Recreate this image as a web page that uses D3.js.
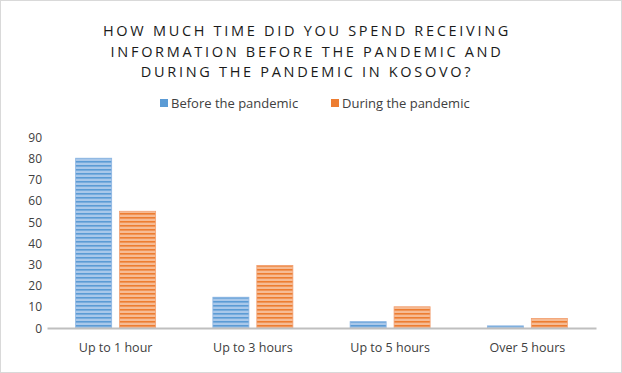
<!DOCTYPE html>
<html><head><meta charset="utf-8">
<script src="https://cdn.jsdelivr.net/npm/d3@7"></script>
<style>body{margin:0;background:#fff}svg{display:block}</style>
</head><body><svg id="c" width="622" height="373"></svg>
<script>
const categories = ["Up to 1 hour", "Up to 3 hours", "Up to 5 hours", "Over 5 hours"];
const seriesNames = ["Before the pandemic", "During the pandemic"];
const beforeValues = [80, 14.5, 3, 1];
const duringValues = [55, 29.5, 10, 4.5];
const yTicks = [0, 10, 20, 30, 40, 50, 60, 70, 80, 90];
const titleLines = ["HOW MUCH TIME DID YOU SPEND RECEIVING", "INFORMATION BEFORE THE PANDEMIC AND", "DURING THE PANDEMIC IN KOSOVO?"];

const svg = d3.select("#c");
const font = "'Open Sans', 'Liberation Sans', sans-serif";
svg.append("rect").attr("x",0.5).attr("y",0.5).attr("width",621).attr("height",372)
  .attr("fill","#fff").attr("stroke","#d9d9d9");

const defs = svg.append("defs");
function stripe(id, light, dark){
  const p = defs.append("pattern").attr("id",id).attr("patternUnits","userSpaceOnUse")
    .attr("width",8).attr("height",4);
  p.append("rect").attr("width",8).attr("height",4).attr("fill",light);
  p.append("rect").attr("y",1).attr("width",8).attr("height",1.6).attr("fill",dark);
}
stripe("pb","#a9c8ea","#5b9bd5");
stripe("po","#f6bb94","#ed7d31");
const colors = ["url(#pb)","url(#po)"];
const strokes = ["#8db6e3","#f2a173"];
const swatch = ["#5b9bd5","#ed7d31"];

const x0 = d3.scaleBand().domain(categories).range([47,596]).paddingInner(0).paddingOuter(0);
const x1 = d3.scaleBand().domain([0,1]).range([x0.bandwidth()/2-40, x0.bandwidth()/2+40]).paddingInner(0.18).paddingOuter(0);
const y = d3.scaleLinear().domain([0,90]).range([328,137]);

// title
const t = svg.append("text").attr("text-anchor","middle").attr("font-family",font)
  .attr("font-size",14.5).attr("fill","#1a1a1a").attr("letter-spacing","2.7px");
titleLines.forEach((l,i)=>t.append("tspan").attr("x",307).attr("y",36+i*20.5).text(l));

// legend
const lg = svg.append("g").attr("font-family",font).attr("font-size",13).attr("fill","#404040");
const legX = [160, 331];
seriesNames.forEach((n,i)=>{
  lg.append("rect").attr("x",legX[i]).attr("y",99).attr("width",8).attr("height",8).attr("fill",swatch[i]);
  lg.append("text").attr("x",legX[i]+11).attr("y",108).attr("fill","#404040").text(n);
});

// y axis
const ya = svg.append("g").attr("transform","translate(42,0)")
  .call(d3.axisLeft(y).tickValues(yTicks).tickSize(0).tickPadding(0));
ya.select(".domain").remove();
ya.selectAll("text").attr("font-family",font).attr("font-size",12).attr("fill","#404040").attr("dy","0.35em");

// bars
const data = categories.map((c,i)=>({c, v:[beforeValues[i], duringValues[i]]}));
const g = svg.append("g");
data.forEach(d=>{
  d.v.forEach((v,j)=>{
    g.append("rect").attr("x",x0(d.c)+x1(j)).attr("y",y(v))
      .attr("width",x1.bandwidth()).attr("height",y(0)-y(v))
      .attr("fill",colors[j]).attr("stroke",strokes[j]).attr("stroke-width",0.8);
  });
});

// x axis
const xa = svg.append("g").attr("transform","translate(0,328)")
  .call(d3.axisBottom(x0).tickSize(0).tickPadding(15));
xa.select(".domain").attr("stroke","#bfbfbf").attr("stroke-width",2);
xa.selectAll("text").attr("font-family",font).attr("font-size",12.5).attr("fill","#404040");
</script></body></html>
